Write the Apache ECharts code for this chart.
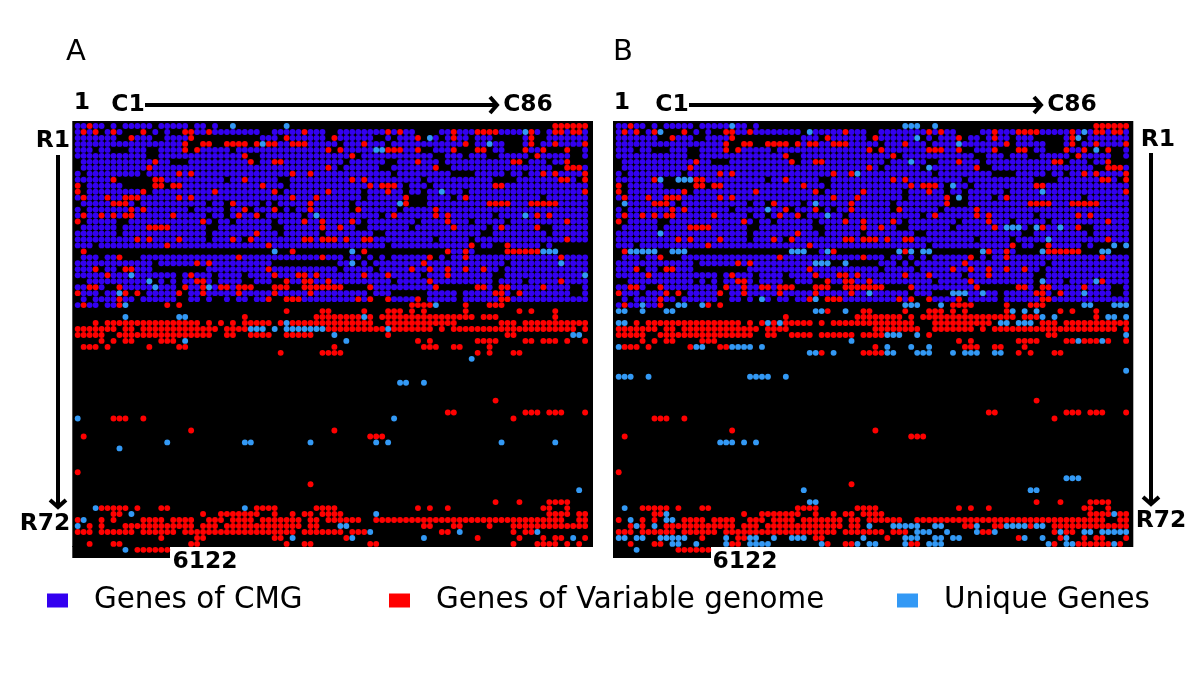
<!DOCTYPE html>
<html><head><meta charset="utf-8">
<style>html,body{margin:0;padding:0;background:#fff}#c{width:1200px;height:678px}</style>
<script src="https://cdn.jsdelivr.net/npm/echarts@6/dist/echarts.min.js"></script>
</head><body><div id="c"></div>
<script>
const seriesNames = ["Genes of CMG", "Genes of Variable genome", "Unique Genes"];
const panelLabels = ["A", "B"];
const COLS = 86, ROWS = 72, TOTAL = 6122;

// row index, columns with no dot inside the CMG block (rows 0..30)
const cmgGaps = [
[0,"5 7 13 19 22 24-79"],[1,"4 8-10 12 14 16-17 31-32 42-43 57-60 78"],
[2,"7-8 13-14 20-30 34 42 50-51 53 58 61 66 70-74 77-78"],[3,"19-20 23-24 29 44 52 66 72-74 77"],
[4,"3 6-8 12-13 19 26 43 58-59 64-66 69 72-74 79-81 83-84"],[5,"12-13 29-30 47 60-61 65 69-70 76 83-84"],
[6,"0 16-18 30 45 52-53 61 75 79 83-85"],[7,"0 44 51-52 61-62 80-81"],[8,"1 11 53 63-66 72 75"],
[9,"7-12 25 34-35 58 70-73 84"],[10,"1 8-12 15 35 55 59"],[11,"1 12 34 48 55 58 65"],[12,"48 56-58 63 78"],
[13,"0 10 22 25 31 33 46 56-58"],[14,"1 19 25 29 34 36 46 54"],[15,"22 25 31 38 51 70"],[16,"1 7-8 23 26 33 48 57 66 72"],
[17,"0 7 22-23 33-34 47-48 56 69 78-79"],[18,"7 22 34 41 50-51 68-69 79"],[19,"22 28 60 66"],
[20,"3 52 67 70-71 78 80-85"],[21,"0-62 65 67-85"],[22,"0 4 8-10 45 48 50 52 60 62"],
[23,"13 33-43 47 49 72"],[24,"4 7 13-21 44 50 71"],[25,"17 23 28 58 70-71"],[26,"0-1 13 15 17 23 28-29 33-34 53 70 75"],
[27,"5-6 17 30-32 36-37 45-48 61-66 70 83-84"],[28,"4 9 11 18 49 53-58 64 73 83-84"],
[29,"0 2 10 17-18 21 23-24 26 29 33-34 50-51 58 64"],[30,"4 7-85"]
];
// extra CMG dot present only in panel B's otherwise empty row
const cmgExtraB = [[21,"34"]];

const variableA = [
[0,"2 80-85"],[1,"1 3 6 11 18 19 22 38 52 54 63 67-70 76 80 81 83 84"],[2,"9 19 35 43 57 63 76"],
[3,"18 21 22 25-28 30 32 33 36-38 48 65 76 80 85"],[4,"18 20 42 44 52-54 57 63 67 68 75 78 82"],[5,"28 46 77"],
[6,"13 29 33 34 57 73 74 82"],[7,"12 42 60 82-84"],[8,"17 19 36 39 78 80 85"],[9,"6 13 14 28 46 48 81 82 85"],
[10,"0 13 14 16 17 31 49 51-53 70 71"],[11,"0 11 23 33 42 52 85"],[12,"1 5 8-10 17 19 36 40 55 65"],
[13,"6-8 26 39 55 69-72 76-80"],[14,"9 11 28 33 39 47 60"],[15,"1 4 6 8 9 16 27 30 53 60 62 77 79"],
[16,"0 21 38 41 46 62 82"],[17,"12-15 41 44 63 71 77"],[18,"30"],[19,"10 12 17 26 29 38 39 41-43 45 48 49 82"],
[20,"15 32 66 72"],[21,"1 36 48 62 65 72-77"],[22,"7 27 41 59 65 81"],[23,"20 22 58"],[24,"3 8 9 32 56 59 62 65 68"],
[25,"5 19 33 37 38 40 48 52 62"],[26,"20 21 35 38 39 42 59 81"],
[27,"2 3 7 18 21 24 25 27-29 33-35 38-44 49 60 67 68 71 72 78"],[28,"0 8 10 17 21 27 33 39 70 71 74"],
[29,"7 32 35-37 47 49 52 57 71 72"],[30,"1 7 15 17 56-59 65 69-71"],
[31,"35 41 42 48 52-54 56 58 65 74 76 80"],[32,"28 40-47 49 51-66 68-70 80"],
[33,"3 5-20 22 24 26 28-32 34 36-49 52-63 71-73 75-85"],
[34,"0-6 8 9 11-23 25-28 42-51 53-59 61 63-69 70-73 74-83 85"],
[35,"0-4 7-22 25 26 29-32 35-39 52 72 73"],[36,"4 6 8 9 14-16 57 59 67-70 75 76 78-80 82 85"],
[37,"1-3 5 12 17 18 43 58-60 63 64 69"],[38,"34 41-44 67 69 73 74"],
[46,"70"],[48,"62 63 75-77 79-81 85"],[49,"6-8 11 73"],[51,"19 43"],[52,"1 49-51"],[58,"0"],[60,"39"],
[63,"70 74 79-82"],[64,"4-8 10 14 15 30-33 40-43 57 59 62 78 79 82"],
[65,"6 7 21 24-30 33 36 38 39 41-44 79-82 84 85"],
[66,"0 4 6 11-14 16-19 22-24 26-29 31-37 39 40 42-47 50-81 84 85"],
[67,"2 4 8-19 21-23 25-37 39 40 58 59 63 64 69 73-85"],
[68,"0-2 4-9 11-16 18-36 38-44 46-48 61 62 73 75 76"],
[69,"14 20 21 33 34 45 67 74 78 80 81 85"],[70,"2 6 7 19 20 35 38 39 49 50 73 77-80 82 84"],[71,"10-15"]
];
const uniqueA = [
[0,"26 35"],[1,"75"],[2,"59"],[3,"31 69"],[4,"50 51"],[11,"61"],[13,"54"],[15,"40 75"],[21,"33 46 78-80"],
[23,"46 81"],[25,"9 85"],[26,"12"],[27,"13 22"],[28,"7"],[30,"8 60"],[32,"8 17 18 48"],[33,"35"],
[34,"29-31 33 35-41 52"],[35,"43 83 84"],[36,"18 45"],[39,"66"],[43,"54 55 58"],[49,"0 53"],
[53,"15 28 29 39 50 52 71 80"],[54,"7"],[61,"84"],[64,"3 28"],[65,"9 50"],[66,"1"],[67,"0 44 45"],
[68,"49 64 77"],[69,"36 46 58 83"],[71,"8"]
];
const variableB = [
[0,"2 80-85"],[1,"1 3 6 11 18 19 22 38 52 54 63 67-70 76 80 81 83 84"],[2,"9 19 35 43 57 63 76"],
[3,"18 21 22 25-28 30 32 33 36-38 48 65 76 80 85"],[4,"18 20 42 44 52-54 57 63 67 68 75 78 82"],[5,"28 46 77"],
[6,"13 29 33 34 57 73 74 82"],[7,"12 42 60 82-84"],[8,"17 19 36 39 78 80 85"],[9,"6 13 14 28 46 48 81 82 85"],
[10,"0 13 14 16 17 31 49 51-53 70 71"],[11,"0 11 23 33 41 52 85"],[12,"1 5 8-10 17 19 36 40 55 65"],
[13,"6-8 26 39 55 69-72 76-80"],[14,"9 11 28 33 39 47 60"],[15,"1 4 6 8 9 16 27 30 53 60 62 77 79"],
[16,"0 21 38 41 46 62 82"],[17,"12-15 41 44 63 71 77"],[18,"30"],[19,"10 12 17 26 29 38 39 41-43 45 48 49 82"],
[20,"15 32 66 72"],[21,"1 36 48 62 65 72-77"],[22,"7 27 41 59 65 81"],[23,"20 22 58"],[24,"3 8 9 32 56 59 62 65 68"],
[25,"5 19 33 37 38 40 48 52 62"],[26,"20 21 35 38 39 42 59 81"],
[27,"2 3 7 18 21 24 25 27-29 33-35 38-44 49 60 67 68 71 72 78"],[28,"0 8 10 17 21 27 33 39 70 71 74"],
[29,"7 32 35-37 47 49 52 57 71 72"],[30,"1 7 15 17 56-59 65 69-71"],
[31,"35 41 42 48 52-54 56 58 65 74 76 80"],[32,"28 40-47 49 51-66 68-70 80"],
[33,"3 5-20 22 24 26 28-32 34 36-49 53-62 71-73 75-85"],
[34,"0-6 8 9 11-23 25-28 43-50 53-59 61 63-83 85"],
[35,"0-4 7-19 20-22 25 26 29-32 34-39 41-44 52 72 73"],[36,"4 6 8 9 14-16 57 59 67-70 75 76 78-80 82 85"],
[37,"1-3 5 12 17 18 43 58-60 63 64 68"],[38,"34 41-44 67 69 73 74"],
[46,"70"],[48,"62 63 75-77 79-81 85"],[49,"6-8 11 73"],[51,"19 43"],[52,"1 49-51"],[58,"0"],[60,"39"],
[63,"70 74 79-82"],[64,"4-8 10 14 15 30-33 40-43 57 59 62 78 79 82"],
[65,"6 7 21 24-30 33 36 38 39 41-44 79-82 84 85"],
[66,"0 4 6 11-14 16-19 22-24 26-29 31-37 39 40 42-47 50-81 84 85"],
[67,"2 4 8-19 21-23 25-37 39 40 58 59 63 64 69 73-85"],
[68,"0-2 4-9 11-16 18-36 38-44 46-48 61 62 73 75 76"],
[69,"14 20 21 33 34 45 67 74 78 80 81 85"],[70,"2 6 7 19 20 35 38 39 49 50 73 77-82 84"],[71,"10-15"]
];
const uniqueB = [
[0,"19 48-50 53"],[1,"7 32 78"],[2,"50 77"],[3,"57"],[4,"80"],[6,"49"],[7,"52"],[8,"40"],[9,"7 10-12"],[10,"56"],
[11,"71"],[12,"57"],[13,"1 33"],[14,"25"],[15,"35"],[17,"65-67 70 74"],[18,"7"],[19,"72"],[20,"83 85"],
[21,"2-6 9-11 29-31 35 47 49 51 52 61 71 81 82"],[23,"33-35 38"],[26,"71 80"],[28,"42 56-58 61 78"],
[29,"24 33"],[30,"4 10 11 14 48-50 54 78 79 83-85"],
[31,"0 1 4 8 9 33 34 38 66 68 70"],[32,"71 73 82 83 85"],[33,"0 1 25 27 64 65 67-69"],[35,"45-47 50 85"],
[36,"39 77 81"],[37,"0 13 14 19-22 24 45 49 52"],[38,"32 33 36 45 46 50-52 56 58-60 63 64"],
[41,"85"],[42,"0-2 5 22-25 28"],[53,"17-19 21 23"],[59,"75-77"],[61,"31 69 70"],[63,"32 33"],[64,"1"],
[65,"8 83"],[66,"2 8 9"],[67,"3 6 42 46-50 53 54 60 65-68 70 71"],[68,"50-52 55 60 63 74 78 79 81-85"],
[69,"0 1 3 4 7-11 18 22 23 26 29-31 41 48-50 53 54 56 57 68 71 75"],
[70,"9 10 13 18 22-25 34 40 42 43 48 52-54 72 75 76 83"],[71,"3"]
];

function cols(s){
  const out=[];
  s.trim().split(/\s+/).forEach(p=>{
    if(!p) return;
    const [a,b]=p.split('-').map(Number);
    for(let c=a;c<=(b===undefined?a:b);c++) out.push(c);
  });
  return out;
}
function buildCells(variable, unique, extra){
  const grid=[];
  for(let r=0;r<ROWS;r++) grid.push(new Array(COLS).fill(-1));
  cmgGaps.forEach(([r,s])=>{
    const g=new Set(cols(s));
    for(let c=0;c<COLS;c++) if(!g.has(c)) grid[r][c]=0;
  });
  extra.forEach(([r,s])=>cols(s).forEach(c=>grid[r][c]=0));
  variable.forEach(([r,s])=>cols(s).forEach(c=>grid[r][c]=1));
  unique.forEach(([r,s])=>cols(s).forEach(c=>grid[r][c]=2));
  const out=[[],[],[]];
  let idx=0;
  for(let r=0;r<ROWS;r++) for(let c=0;c<COLS;c++){
    idx++;
    if(idx>TOTAL) break;
    if(grid[r][c]>=0) out[grid[r][c]].push([c,r]);
  }
  return out;
}
const cellsA=buildCells(variableA,uniqueA,[]);
const cellsB=buildCells(variableB,uniqueB,cmgExtraB);

const colors=["#3300f0","#ff0000","#3399f5"];
const black="#000";
const grids=[
 {left:72.3,top:121,width:520.7,height:426,show:true,backgroundColor:black,borderWidth:0},
 {left:613,top:121,width:520.3,height:426,show:true,backgroundColor:black,borderWidth:0},
 {left:72.3,top:546,width:97.7,height:12,show:true,backgroundColor:black,borderWidth:0},
 {left:613,top:546,width:98,height:12,show:true,backgroundColor:black,borderWidth:0}
];
const xAx=[[-0.905,86.32],[-0.955,86.2],[0,1],[0,1]].map(([min,max],i)=>({type:'value',gridIndex:i,min,max,show:false}));
const yAx=[[-0.84,70.52],[-0.84,70.52],[0,1],[0,1]].map(([min,max],i)=>({type:'value',gridIndex:i,min,max,inverse:true,show:false}));

function panelSeries(cells,idx){
  return cells.map((d,i)=>({
    name:seriesNames[i],type:'scatter',xAxisIndex:idx,yAxisIndex:idx,data:d,
    symbol:'circle',symbolSize:5.9,clip:false,silent:true,animation:false,z:5,
    itemStyle:{color:colors[i],opacity:1}
  }));
}
const FONT='"DejaVu Sans"';
const txt=(text,x,y,size,weight)=>({type:'text',x,y,silent:true,z:10,
  style:{text,fill:'#000',font:`${weight} ${size}px ${FONT}`,align:'center',verticalAlign:'middle'}});
const line=(x1,y1,x2,y2)=>({type:'line',silent:true,z:10,shape:{x1,y1,x2,y2},style:{stroke:'#000',lineWidth:4}});
const head=(pts)=>({type:'polyline',silent:true,z:10,shape:{points:pts},style:{stroke:'#000',lineWidth:4,fill:null}});
const hArrow=(x1,x2,y)=>[line(x1,y,x2-2,y),head([[x2-8,y-8],[x2-1,y],[x2-8,y+8]])];
const vArrow=(x,y1,y2)=>[line(x,y1,x,y2-2),head([[x-8,y2-8],[x,y2-1],[x+8,y2-8]])];

const graphics=[
 txt(panelLabels[0],76,52,29,'normal'),txt(panelLabels[1],623,52,29,'normal'),
 txt("1",82,103,23.4,'bold'),txt("C1",128,105,23.4,'bold'),txt("C86",528,105,23.4,'bold'),
 txt("1",622,103,23.4,'bold'),txt("C1",672,105,23.4,'bold'),txt("C86",1072,105,23.4,'bold'),
 txt("R1",53,141,23.4,'bold'),txt("R72",45,524,23.4,'bold'),
 txt("R1",1158,140,23.4,'bold'),txt("R72",1161,521,23.4,'bold'),
 txt(String(TOTAL),205,562,23.4,'bold'),txt(String(TOTAL),745,562,23.4,'bold'),
 ...hArrow(145,498,105),...hArrow(689,1042,105),
 ...vArrow(58,155,508),...vArrow(1151,153,505)
];
const legendAt=[47,389,897];
const legends=seriesNames.map((n,i)=>({
  data:[n],left:legendAt[i],top:586,padding:0,icon:'rect',itemWidth:21,itemHeight:14,selectedMode:false,
  itemStyle:{opacity:1},
  textStyle:{fontFamily:FONT,fontSize:29.4,color:'#000',padding:[8,0,0,21]}
}));
const chart=echarts.init(document.getElementById('c'),null,{renderer:'canvas'});
chart.setOption({
  backgroundColor:'#fff',animation:false,
  grid:grids,xAxis:xAx,yAxis:yAx,legend:legends,
  series:[...panelSeries(cellsA,0),...panelSeries(cellsB,1)],
  graphic:{elements:graphics}
});
</script></body></html>
